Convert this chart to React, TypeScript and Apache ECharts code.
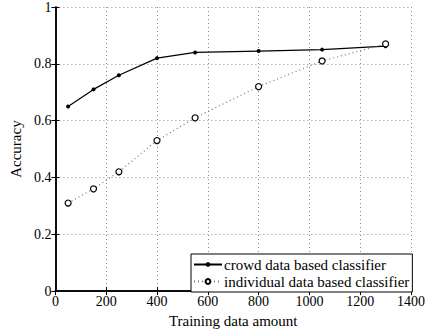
import React, { useEffect, useRef } from "react";
import * as echarts from "echarts";

const trainingAmounts = [50, 150, 250, 400, 550, 800, 1050, 1300];
const crowdAccuracy = [0.65, 0.71, 0.76, 0.82, 0.84, 0.845, 0.85, 0.862];
const individualAccuracy = [0.31, 0.36, 0.42, 0.53, 0.61, 0.72, 0.81, 0.87];
const seriesNames = ["crowd data based classifier", "individual data based classifier"];

const FONT = "Liberation Serif";

export default function App() {
  const ref = useRef<HTMLDivElement>(null);
  useEffect(() => {
    const chart = echarts.init(ref.current!, null, { renderer: "svg" });
    const labelStyle = { color: "#000", fontFamily: FONT, fontSize: 14 };
    const nameStyle = { color: "#000", fontFamily: FONT, fontSize: 15 };
    const gridLine = { show: true, lineStyle: { color: "#888", type: [1, 3] as any, width: 1 } };
    chart.setOption({
      animation: false,
      backgroundColor: "#fff",
      grid: { left: 45, top: 5, right: 16, bottom: 38 },
      legend: {
        orient: "vertical",
        left: 191,
        top: 254,
        backgroundColor: "#fff",
        borderColor: "#000",
        borderWidth: 1,
        borderRadius: 0,
        padding: [3, 3, 3, 2],
        itemGap: 2,
        itemWidth: 28,
        itemHeight: 6,
        textStyle: { color: "#000", fontFamily: FONT, fontSize: 15, padding: [0, 0, 0, -3] },
        data: seriesNames,
      },
      xAxis: [
        {
          type: "value",
          min: 0,
          max: 1400,
          interval: 200,
          name: "Training data amount",
          nameLocation: "middle",
          nameGap: 19,
          nameTextStyle: nameStyle,
          axisLine: { show: true, lineStyle: { color: "#000", width: 1.5 } },
          axisTick: { show: true, inside: true, length: 4, lineStyle: { color: "#000" } },
          axisLabel: { ...labelStyle, margin: 3, formatter: (v: number) => String(v) },
          splitLine: gridLine,
        },
        {
          type: "value",
          position: "top",
          min: 0,
          max: 1400,
          interval: 200,
          axisLine: { show: true, lineStyle: { color: "#000", width: 1.5 } },
          axisTick: { show: true, inside: true, length: 4, lineStyle: { color: "#000" } },
          axisLabel: { show: false },
          splitLine: { show: false },
        },
      ],
      yAxis: [
        {
          type: "value",
          min: 0,
          max: 1,
          interval: 0.2,
          name: "Accuracy",
          nameLocation: "middle",
          nameGap: 30,
          nameTextStyle: nameStyle,
          axisLine: { show: true, lineStyle: { color: "#000", width: 1.5 } },
          axisTick: { show: true, inside: true, length: 4, lineStyle: { color: "#000" } },
          axisLabel: { ...labelStyle, margin: 4, formatter: (v: number) => String(v) },
          splitLine: gridLine,
        },
        {
          type: "value",
          position: "right",
          min: 0,
          max: 1,
          interval: 0.2,
          axisLine: { show: true, lineStyle: { color: "#000", width: 1.5 } },
          axisTick: { show: true, inside: true, length: 4, lineStyle: { color: "#000" } },
          axisLabel: { show: false },
          splitLine: { show: false },
        },
      ],
      series: [
        {
          name: seriesNames[0],
          type: "line",
          data: trainingAmounts.map((x, i) => [x, crowdAccuracy[i]]),
          symbol: "circle",
          symbolSize: 4,
          itemStyle: { color: "#000" },
          lineStyle: { color: "#000", width: 1.2 },
        },
        {
          name: seriesNames[1],
          type: "line",
          data: trainingAmounts.map((x, i) => [x, individualAccuracy[i]]),
          symbol: "circle",
          symbolSize: 6,
          itemStyle: { color: "#fff", borderColor: "#000", borderWidth: 1.2 },
          lineStyle: { color: "#777", width: 1.2, type: [1, 3] },
        },
      ],
    });
    return () => chart.dispose();
  }, []);
  return <div ref={ref} style={{ width: 428, height: 333, position: "absolute", left: 0, top: 0 }} />;
}
